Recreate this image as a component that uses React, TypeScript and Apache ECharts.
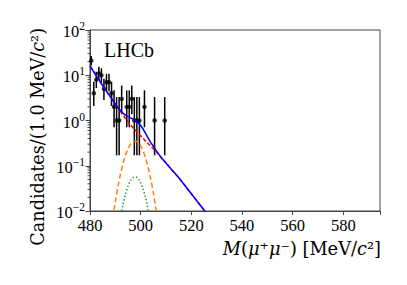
import React, { useEffect, useRef } from "react";
import * as echarts from "echarts";

// ---- data ----
const binX = [480.5, 481.5, 482.5, 483.5, 484.5, 485.5, 486.5, 487.5, 488.5, 489.5, 490.5, 491.5, 492.5, 494.5, 495.5, 496.5, 497.5, 498.5, 499.5, 501.5, 505.5, 509.5];
const counts = [21, 4, 8, 11, 10, 5, 7, 7, 4, 2, 1, 1, 3, 2, 2, 3, 1, 1, 1, 2, 1, 1];
const errLow = [16.5, 2.09, 5.23, 7.74, 6.89, 2.84, 4.42, 4.42, 2.09, 0.71, 0.17, 0.17, 1.37, 0.71, 0.71, 1.37, 0.17, 0.17, 0.17, 0.71, 0.17, 0.17];
const errHigh = [26.6, 7.16, 11.95, 15.42, 14.27, 8.38, 10.77, 10.77, 7.16, 4.64, 3.3, 3.3, 5.92, 4.64, 4.64, 5.92, 3.3, 3.3, 3.3, 4.64, 3.3, 3.3];

const bkgX = [480, 485, 490, 492, 494, 496, 498, 500, 502, 504, 506, 508, 510, 512, 515, 520, 525, 528];
const bkgY = [16, 5.9, 2.3, 1.6, 1.12, 0.8, 0.6, 0.46, 0.35, 0.27, 0.21, 0.155, 0.115, 0.085, 0.055, 0.024, 0.0105, 0.0065];

const totX = [480, 485, 490, 491, 492, 493, 494, 495, 496, 497, 498, 499, 500, 501, 502, 503, 504, 505, 506, 507, 508, 510, 512, 515, 520, 525, 528];
const totY = [16, 5.9, 2.32, 1.97, 1.67, 1.46, 1.31, 1.22, 1.14, 1.08, 1.01, 0.9, 0.78, 0.64, 0.51, 0.41, 0.325, 0.27, 0.222, 0.185, 0.155, 0.115, 0.085, 0.055, 0.024, 0.0105, 0.0065];

const sigAX = [489, 489.5, 490, 491, 492, 493, 494, 495, 496, 497, 498, 499, 500, 501, 502, 503, 504, 505, 506, 506.5];
const sigAY = [0.007, 0.0108, 0.016, 0.034, 0.064, 0.11, 0.17, 0.235, 0.297, 0.339, 0.349, 0.326, 0.274, 0.209, 0.144, 0.089, 0.05, 0.0255, 0.0117, 0.008];

const sigBX = [492, 493, 494, 495, 496, 497, 498, 499, 500, 501, 502, 503, 504];
const sigBY = [0.0071, 0.0136, 0.0232, 0.035, 0.0466, 0.0548, 0.0568, 0.0521, 0.0422, 0.0302, 0.019, 0.0106, 0.0052];

const yTickExps = ["\u22122", "\u22121", "0", "1", "2"];
const xTickStep = 20;

const FONT = '"Liberation Serif", "DejaVu Serif", serif';
const TFONT = '"DejaVu Serif", "Liberation Serif", serif';
const AXIS = "#444";

export default function App() {
  const ref = useRef<HTMLDivElement>(null);
  useEffect(() => {
    if (!ref.current) return;
    const chart = echarts.init(ref.current, null, { renderer: "svg" });
    const minorVals: number[][] = [];
    for (let e = -2; e < 2; e++) {
      for (let m = 2; m <= 9; m++) minorVals.push([480, m * Math.pow(10, e)]);
    }
    const pair = (xs: number[], ys: number[]) => xs.map((x, i) => [x, ys[i]]);
    chart.setOption({
      animation: false,
      grid: { left: 90, right: 27, top: 30, bottom: 74, show: true, borderColor: AXIS, borderWidth: 1, backgroundColor: "transparent" },
      xAxis: {
        type: "value", min: 480, max: 594.5, interval: xTickStep,
        axisLine: { show: true, lineStyle: { color: AXIS, width: 1 } },
        axisTick: { show: true, length: 4, inside: false, lineStyle: { color: AXIS } },
        axisLabel: {
          fontFamily: FONT, fontSize: 16.5, color: "#000", margin: 6,
          formatter: (v: number) => (Math.abs(v % xTickStep) < 1e-6 ? String(v) : ""),
        },
        splitLine: { show: false },
      },
      yAxis: {
        type: "log", logBase: 10, min: 0.01, max: 100,
        axisLine: { show: true, lineStyle: { color: AXIS, width: 1 } },
        axisTick: { show: true, length: 4.5, inside: false, lineStyle: { color: AXIS } },
        axisLabel: {
          color: "#000", margin: 5,
          formatter: (v: number) => {
            const e = Math.round(Math.log10(v));
            const s = yTickExps[e + 2];
            return s === undefined ? "" : "{b|10}{s|" + s + "}";
          },
          rich: {
            b: { fontFamily: FONT, fontSize: 16.5, lineHeight: 20, color: "#000", verticalAlign: "bottom" },
            s: { fontFamily: FONT, fontSize: 11.5, lineHeight: 12, color: "#000", verticalAlign: "top" },
          },
        },
        splitLine: { show: false },
      },
      series: [
        {
          type: "custom", name: "minorTicks", silent: true, clip: false, z: 1,
          data: minorVals,
          encode: { x: 0, y: 1 },
          renderItem: (_p: any, api: any) => {
            const pt = api.coord([api.value(0), api.value(1)]);
            return { type: "line", shape: { x1: pt[0] - 2.5, y1: pt[1], x2: pt[0], y2: pt[1] }, style: { stroke: AXIS, lineWidth: 1 } };
          },
        },
        {
          type: "custom", name: "errors", silent: true, clip: true, z: 2,
          data: binX.map((x, i) => [x, errLow[i], errHigh[i]]),
          encode: { x: 0, y: [1, 2] },
          renderItem: (_p: any, api: any) => {
            const a = api.coord([api.value(0), api.value(1)]);
            const b = api.coord([api.value(0), api.value(2)]);
            return { type: "line", shape: { x1: a[0], y1: a[1], x2: b[0], y2: b[1] }, style: { stroke: "#000", lineWidth: 1.5 } };
          },
        },
        {
          type: "scatter", name: "Data", z: 3, symbol: "circle", symbolSize: 4.5,
          itemStyle: { color: "#000" }, data: pair(binX, counts),
        },
        {
          type: "line", name: "Background", z: 4, showSymbol: false, symbol: "none", clip: true,
          lineStyle: { color: "#ff0000", width: 1.5, type: [4, 2] }, data: pair(bkgX, bkgY),
        },
        {
          type: "line", name: "SignalA", z: 4, showSymbol: false, symbol: "none", clip: true, smooth: 0.3,
          lineStyle: { color: "#ff7f0e", width: 1.5, type: [5, 3] }, data: pair(sigAX, sigAY),
        },
        {
          type: "line", name: "SignalB", z: 4, showSymbol: false, symbol: "none", clip: true, smooth: 0.3,
          lineStyle: { color: "#2ca02c", width: 1.5, type: [1.5, 2] }, data: pair(sigBX, sigBY),
        },
        {
          type: "line", name: "Total", z: 5, showSymbol: false, symbol: "none", clip: true,
          lineStyle: { color: "#0000ff", width: 1.5 }, data: pair(totX, totY),
        },
      ],
      graphic: [
        { type: "text", x: 104, y: 50, style: { text: "LHCb", fontFamily: FONT, fontSize: 20, fill: "#000", textAlign: "left", textVerticalAlign: "middle" } },
        {
          type: "text", x: 381, y: 248,
          style: {
            text: "{i|M}({i|\u03BC}\u207A{i|\u03BC}\u207B) [MeV/{i|c}\u00B2]",
            fontFamily: TFONT, fontSize: 17.8, fill: "#000", textAlign: "right", textVerticalAlign: "middle",
            rich: { i: { fontStyle: "italic", fontFamily: TFONT, fontSize: 17.8, fill: "#000" } },
          },
        },
        {
          type: "text", x: 38, y: 28, rotation: Math.PI / 2,
          style: {
            text: "Candidates/(1.0 MeV/{i|c}\u00B2)",
            fontFamily: TFONT, fontSize: 17.6, fill: "#000", textAlign: "right", textVerticalAlign: "middle",
            rich: { i: { fontStyle: "italic", fontFamily: TFONT, fontSize: 17.6, fill: "#000" } },
          },
        },
      ],
    });
    return () => chart.dispose();
  }, []);
  return <div ref={ref} style={{ width: 407, height: 285, position: "absolute", left: 0, top: 0 }} />;
}
